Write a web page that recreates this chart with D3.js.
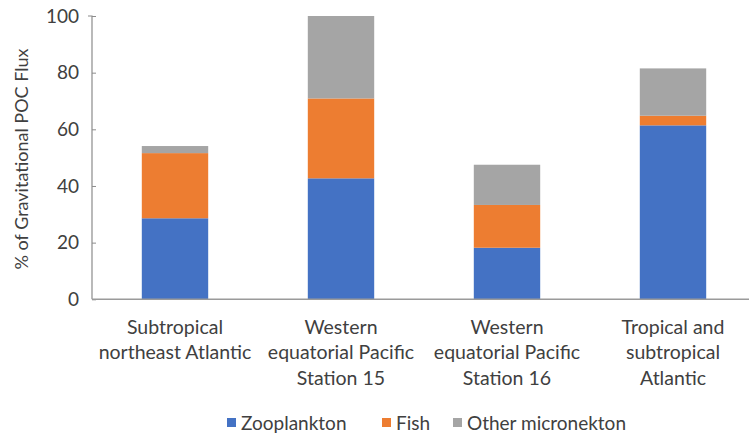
<!DOCTYPE html>
<html><head><meta charset="utf-8">
<script src="https://cdn.jsdelivr.net/npm/d3@7"></script>
<style>body{margin:0;background:#fff;} svg{display:block;font-family:Lato,"Open Sans",sans-serif;}</style>
</head><body>
<svg id="chart" width="749" height="435"></svg>
<script>
const categories = [
  ["Subtropical","northeast Atlantic"],
  ["Western","equatorial Pacific","Station 15"],
  ["Western","equatorial Pacific","Station 16"],
  ["Tropical and","subtropical","Atlantic"]
];
const seriesNames = ["Zooplankton","Fish","Other micronekton"];
const zooplankton = [28.6, 42.7, 18.2, 61.4];
const fish = [23.0, 28.2, 15.1, 3.4];
const otherMicronekton = [2.5, 29.1, 14.2, 16.7];
const yTicks = [0,20,40,60,80,100];
const colors = ["#4472C4","#ED7D31","#A5A5A5"];

const svg = d3.select("#chart");
const x0 = 92, x1 = 756, yBottom = 299.3, yTop = 16;
const keys = categories.map((c,i)=>i);
const x = d3.scaleBand().domain(keys).range([x0,x1]).paddingInner(0.6).paddingOuter(0.3);
const y = d3.scaleLinear().domain([0,100]).range([yBottom,yTop]);

const rows = keys.map(i=>({i, "Zooplankton":zooplankton[i], "Fish":fish[i], "Other micronekton":otherMicronekton[i]}));
const stacked = d3.stack().keys(seriesNames)(rows);

svg.append("g").selectAll("g").data(stacked).join("g")
  .attr("fill",(d,k)=>colors[k])
  .selectAll("rect").data(d=>d).join("rect")
  .attr("x",d=>x(d.data.i)).attr("width",x.bandwidth())
  .attr("y",d=>y(d[1])).attr("height",d=>y(d[0])-y(d[1]));

// y axis
const ya = svg.append("g").attr("transform",`translate(${x0},0)`)
  .call(d3.axisLeft(y).tickValues(yTicks).tickSize(-4).tickPadding(13));
ya.select(".domain").attr("stroke","#8c8c8c").attr("stroke-width",1.2).attr("d",`M-4,${yTop}H0V${yBottom}`);
ya.selectAll(".tick line").attr("stroke","#8c8c8c");
ya.selectAll(".tick text").attr("fill","#404040").style("font-size","19px").style("font-family","Lato");

// x axis line
svg.append("line").attr("x1",x0).attr("x2",x1).attr("y1",yBottom).attr("y2",yBottom)
  .attr("stroke","#9a9a9a").attr("stroke-width",1.5);

// category labels
const lab = svg.append("g").attr("fill","#404040").style("font-size","19.5px").attr("text-anchor","middle");
categories.forEach((lines,i)=>{
  const cx = x(i)+x.bandwidth()/2;
  const t = lab.append("text").attr("x",cx).attr("y",333.5);
  lines.forEach((l,j)=>t.append("tspan").attr("x",cx).attr("dy",j===0?0:25.5).text(l));
});

// y title
svg.append("text").attr("transform",`translate(28,159) rotate(-90)`)
  .attr("text-anchor","middle").attr("fill","#404040").style("font-size","18px")
  .text("% of Gravitational POC Flux");

// legend
const legendX = [227, 382, 453];
const lg = svg.append("g");
seriesNames.forEach((n,k)=>{
  lg.append("rect").attr("x",legendX[k]).attr("y",418).attr("width",9).attr("height",9).attr("fill",colors[k]);
  lg.append("text").attr("x",legendX[k]+14).attr("y",429.5).attr("fill","#404040").style("font-size","19px").text(n);
});
</script>
</body></html>
